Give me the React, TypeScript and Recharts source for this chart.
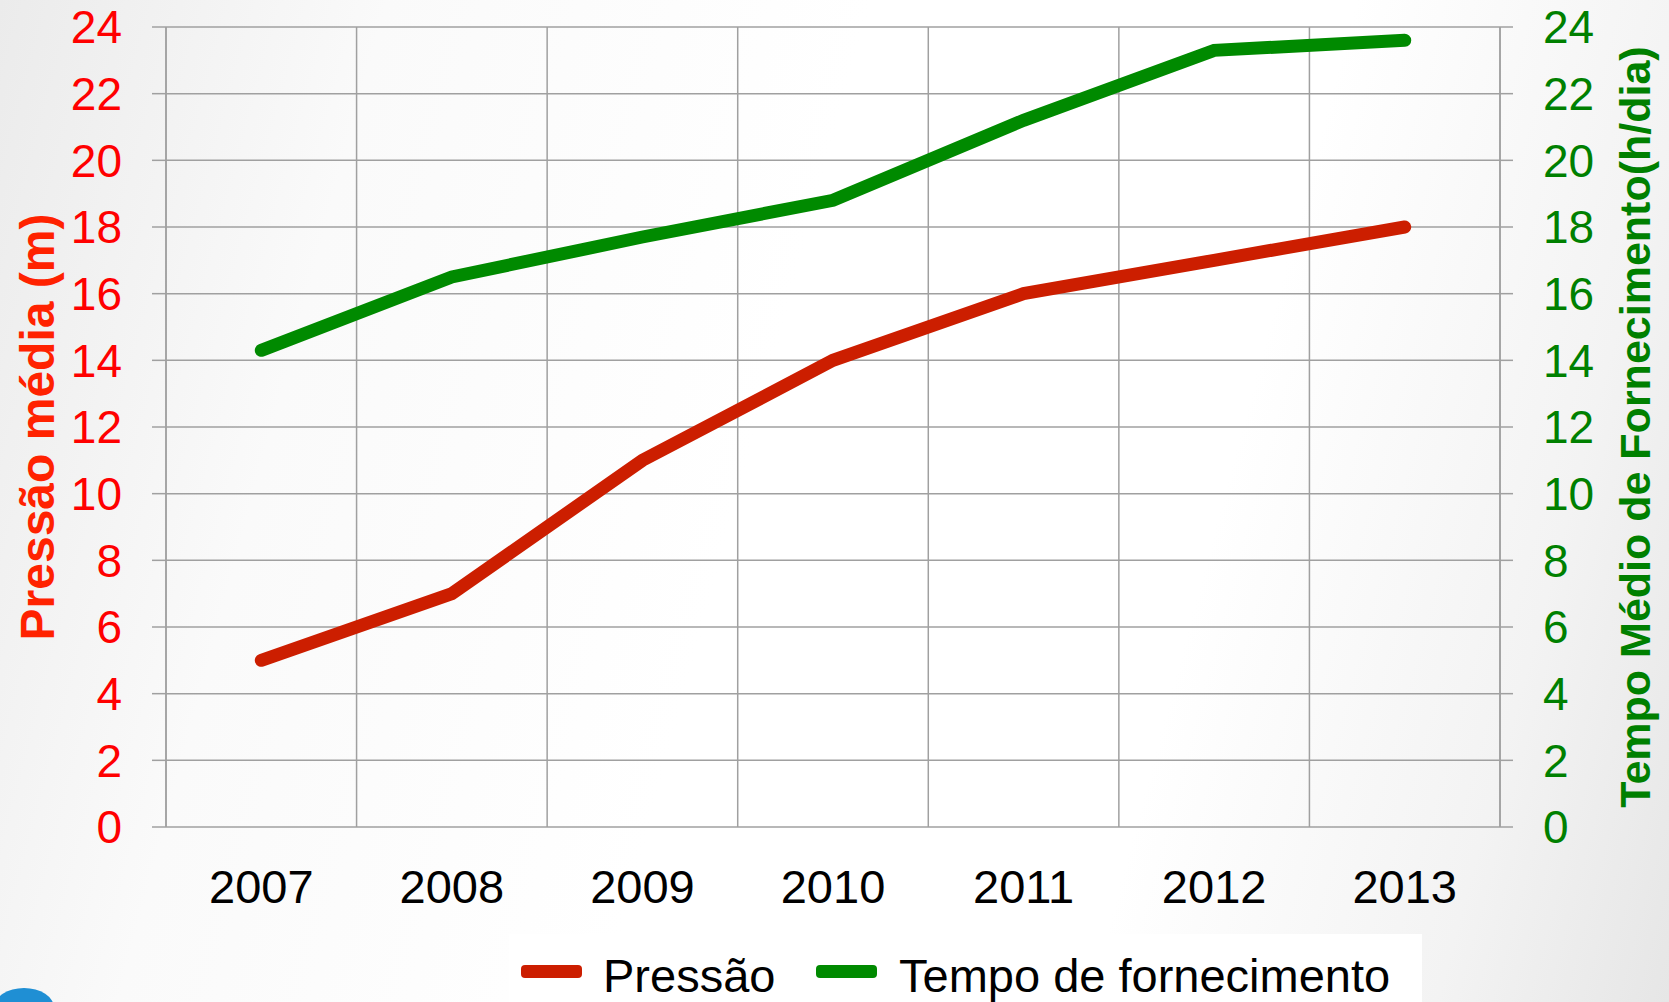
import { CartesianGrid, Line, LineChart, XAxis, YAxis } from "recharts"

const years = ["2007", "2008", "2009", "2010", "2011", "2012", "2013"]
const pressao = [5, 7, 11, 14, 16, 17, 18]
const tempoFornecimento = [14.3, 16.5, 17.7, 18.8, 21.2, 23.3, 23.6]
const yTicks = [0, 2, 4, 6, 8, 10, 12, 14, 16, 18, 20, 22, 24]
const leftTitle = "Pressão média (m)"
const rightTitle = "Tempo Médio de Fornecimento(h/dia)"
const legendPressao = "Pressão"
const legendTempo = "Tempo de fornecimento"

const WIDTH = 1669
const HEIGHT = 1002
const FONT = "'Liberation Sans', Arial, sans-serif"
const GRID = "#a0a0a0"
const RED = "#cc1e00"
const GREEN = "#008a00"

// category boundaries (for grid + tick marks) and centres (for labels)
const boundaryTicks = years.map((_, index) => index).concat(years.length)
const centerTicks = years.map((_, index) => index + 0.5)

const rows = years.map((year, index) => ({
  pos: index + 0.5,
  year,
  pressao: pressao[index],
  tempo: tempoFornecimento[index],
}))

type ViewBox = { x: number; y: number; width: number; height: number }

function axisTitle(text: string, color: string, size: number, dx: number) {
  return ({ viewBox }: { viewBox: ViewBox }) => {
    const cx = viewBox.x + dx
    const cy = viewBox.y + viewBox.height / 2
    return (
      <text
        x={cx}
        y={cy}
        transform={`rotate(-90 ${cx} ${cy})`}
        textAnchor="middle"
        dominantBaseline="central"
        fill={color}
        fontSize={size}
        fontWeight="bold"
        fontFamily={FONT}
      >
        {text}
      </text>
    )
  }
}

export default function App() {
  return (
    <div
      style={{
        position: "fixed",
        top: 0,
        left: 0,
        width: WIDTH,
        height: HEIGHT,
        overflow: "hidden",
        background:
          "linear-gradient(105deg, #ebebeb 0%, #fafafa 20%, #ffffff 45%, #ffffff 70%, #f3f3f3 88%, #e6e6e6 100%)",
        fontFamily: FONT,
      }}
    >
      <LineChart
        width={WIDTH}
        height={HEIGHT}
        data={rows}
        margin={{ top: 27, right: 0, bottom: 0, left: 0 }}
      >
        <CartesianGrid
          xAxisId="band"
          yAxisId="left"
          stroke={GRID}
          strokeWidth={1.5}
        />
        <XAxis
          xAxisId="band"
          dataKey="pos"
          type="number"
          domain={[0, years.length]}
          ticks={boundaryTicks}
          interval={0}
          height={0}
          tickSize={13}
          tickFormatter={() => ""}
          axisLine={{ stroke: GRID, strokeWidth: 1.5 }}
          tickLine={{ stroke: GRID, strokeWidth: 1.5 }}
        />
        <XAxis
          xAxisId="label"
          dataKey="pos"
          type="number"
          domain={[0, years.length]}
          ticks={centerTicks}
          interval={0}
          height={175}
          tickSize={13}
          tickMargin={30}
          tickLine={false}
          axisLine={false}
          tickFormatter={(value: number) => years[Math.floor(value)]}
          tick={{ fill: "#000000", fontSize: 47, fontFamily: FONT }}
        />
        <YAxis
          yAxisId="left"
          orientation="left"
          width={166}
          domain={[0, 24]}
          ticks={yTicks}
          interval={0}
          tickSize={14}
          tickMargin={30}
          axisLine={{ stroke: GRID, strokeWidth: 1.5 }}
          tickLine={{ stroke: GRID, strokeWidth: 1.5 }}
          tick={{ fill: "#ff0000", fontSize: 46, fontFamily: FONT }}
          label={axisTitle(leftTitle, "#ff2200", 48, 37)}
        />
        <YAxis
          yAxisId="right"
          orientation="right"
          width={169}
          domain={[0, 24]}
          ticks={yTicks}
          interval={0}
          tickSize={13}
          tickMargin={30}
          axisLine={{ stroke: GRID, strokeWidth: 1.5 }}
          tickLine={{ stroke: GRID, strokeWidth: 1.5 }}
          tick={{ fill: "#008000", fontSize: 46, fontFamily: FONT }}
          label={axisTitle(rightTitle, "#008000", 43, 135)}
        />
        <Line
          xAxisId="band"
          yAxisId="left"
          dataKey="pressao"
          name={legendPressao}
          stroke={RED}
          strokeWidth={13}
          strokeLinecap="round"
          dot={false}
          activeDot={false}
          type="linear"
          isAnimationActive={false}
        />
        <Line
          xAxisId="band"
          yAxisId="right"
          dataKey="tempo"
          name={legendTempo}
          stroke={GREEN}
          strokeWidth={13}
          strokeLinecap="round"
          dot={false}
          activeDot={false}
          type="linear"
          isAnimationActive={false}
        />
      </LineChart>

      <svg
        width={913}
        height={68}
        style={{ position: "absolute", left: 509, top: 934, background: "#ffffff" }}
      >
        <rect x={12} y={31} width={61} height={13} rx={4} fill={RED} />
        <text x={94} y={58} fontSize={47} fontFamily={FONT} fill="#000000">
          {legendPressao}
        </text>
        <rect x={307} y={31} width={61} height={13} rx={4} fill={GREEN} />
        <text x={390} y={58} fontSize={47} fontFamily={FONT} fill="#000000">
          {legendTempo}
        </text>
      </svg>

      <div
        style={{
          position: "absolute",
          left: -6,
          top: 988,
          width: 60,
          height: 40,
          borderRadius: "50%",
          background: "#1f8fd4",
        }}
      />
    </div>
  )
}
